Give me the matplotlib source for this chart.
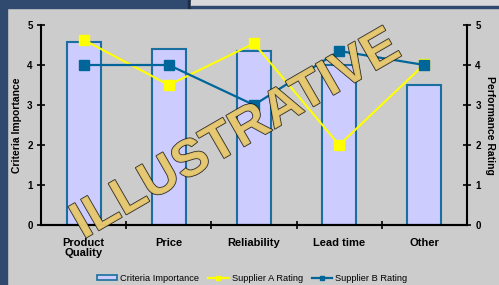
import numpy as np
import matplotlib
matplotlib.use("Agg")
from matplotlib import pyplot as plt
from matplotlib import patheffects
from matplotlib.patches import Rectangle, Patch
from matplotlib.lines import Line2D

# chart data
categories = ["Product\nQuality", "Price", "Reliability", "Lead time", "Other"]
criteria_importance = [4.57, 4.4, 4.36, 4.0, 3.5]
supplier_a = [4.63, 3.5, 4.54, 2.0, 4.02]
supplier_b = [4.0, 4.0, 3.0, 4.35, 4.0]
y_ticks = [0, 1, 2, 3, 4, 5]

NAVY = "#2f4a6e"
BAR_EDGE = "#1a6fa0"
BLUE = "#006699"
YELLOW = "#ffff00"

plt.rcParams['font.family'] = ['Liberation Sans', 'DejaVu Sans']

fig = plt.figure(figsize=(4.99, 2.85), dpi=100)
fig.patch.set_facecolor("#cccccc")

W, H = 499.0, 285.0
def px(x, y, w, h, **kw):
    # rectangle given in pixel coords (top-left origin)
    fig.patches.append(Rectangle((x / W, 1 - (y + h) / H), w / W, h / H,
                                 transform=fig.transFigure, **kw))

# frame decoration
px(0, 0, 7, 285, color=NAVY, zorder=0)
px(0, 0, 188, 8, color=NAVY, zorder=0)
px(188, 0, 3, 8, color="#1c2c44", zorder=0)
px(191, 0, 308, 6, color="#d9d9d9", zorder=0)
px(191, 6, 308, 2, color=NAVY, zorder=0)

ax = fig.add_axes([41 / W, 1 - 225 / H, 426 / W, 200 / H])
ax.set_facecolor("none")
x = np.arange(len(categories))

ax.bar(x, criteria_importance, width=0.4, color="#ccccff",
       edgecolor=BAR_EDGE, linewidth=1.5, zorder=2)
ax.set_xlim(-0.5, len(categories) - 0.5)
ax.set_ylim(0, 5)
ax.set_yticks(y_ticks)

ax2 = ax.twinx()
ax2.plot(x, supplier_a, color=YELLOW, lw=1.5, marker="s", ms=7, zorder=3)
ax2.plot(x, supplier_b, color=BLUE, lw=1.6, marker="s", ms=6.5, zorder=4)
ax2.set_ylim(0, 5)
ax2.set_yticks(y_ticks)

for a in (ax, ax2):
    a.spines["top"].set_visible(False)
    for s in ("left", "right", "bottom"):
        a.spines[s].set_linewidth(1.5)
        a.spines[s].set_color("black")
    a.tick_params(axis="y", direction="inout", length=6, width=1.2,
                  labelsize=7, pad=3)
    for lab in a.get_yticklabels():
        lab.set_fontweight("bold")

ax.spines["right"].set_visible(False)
ax2.spines["left"].set_visible(False)

ax.set_xticks(x)
ax.set_xticklabels(categories, fontsize=8, fontweight="bold", linespacing=1.1)
ax.tick_params(axis="x", length=0, pad=9)
ax.set_xticks(np.arange(len(categories) - 1) + 0.5, minor=True)
ax.tick_params(axis="x", which="minor", direction="inout", length=6, width=1.2)

ax.set_ylabel("Criteria Importance", fontsize=7.5, fontweight="bold", labelpad=4)
ax2.set_ylabel("Performance Rating", fontsize=7.5, fontweight="bold",
               rotation=-90, labelpad=10)

handles = [
    Patch(facecolor="#ccccff", edgecolor=BAR_EDGE, linewidth=1.2),
    Line2D([], [], color=YELLOW, lw=1.6, marker="s", ms=3.5),
    Line2D([], [], color=BLUE, lw=1.6, marker="s", ms=3.5),
]
fig.legend(handles, ["Criteria Importance", "Supplier A Rating", "Supplier B Rating"],
           loc="center", bbox_to_anchor=(0.505, 0.024), ncol=3, frameon=False,
           fontsize=6.7, handlelength=2.2, handleheight=0.5, columnspacing=1.0,
           handletextpad=0.3)

# watermark
fig.text(0.474, 0.525, "ILLUSTRATIVE", fontsize=37.5, fontweight="bold",
         family=["Liberation Sans Narrow", "Liberation Sans"],
         color="#e6c870", alpha=0.85, rotation=30, ha="center", va="center",
         rotation_mode="anchor", zorder=10,
         path_effects=[patheffects.withStroke(linewidth=1.0, foreground="black")])

fig.savefig("out.png", dpi=100, facecolor=fig.get_facecolor())
